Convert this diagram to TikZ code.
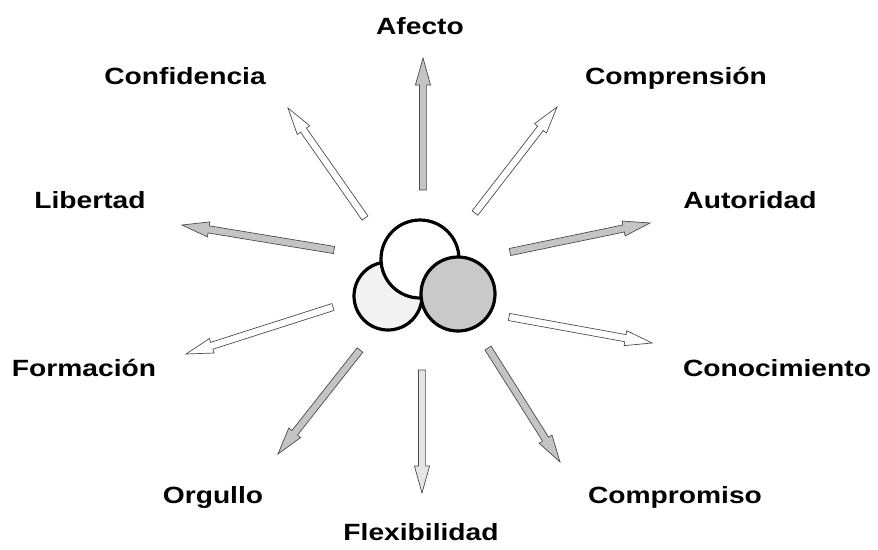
\documentclass[tikz,border=0pt]{standalone}
\usepackage{fontspec}
\newfontfamily\labelfont[FakeStretch=1.2]{Liberation Sans}
\usetikzlibrary{calc}

\definecolor{arrowGray}{rgb}{0.77,0.77,0.77}
\definecolor{paleGray}{rgb}{0.9,0.9,0.9}
\definecolor{leftGray}{rgb}{0.95,0.95,0.95}
\definecolor{circleGray}{rgb}{0.79,0.79,0.79}
\definecolor{strokecol}{rgb}{0.3,0.3,0.3}

% block arrow: tail, tip, fill colour
\newcommand{\rayArrow}[3]{%
    \coordinate (neck) at ($(#2)!\headL!(#1)$);
    \draw[rayline, fill=#3] ($(#1)!\shaftW!90:(#2)$) -- ($(neck)!\shaftW!90:(#2)$) -- ($(neck)!\headW!90:(#2)$) -- (#2) -- ($(neck)!\headW!-90:(#2)$) -- ($(neck)!\shaftW!-90:(#2)$) -- ($(#1)!\shaftW!-90:(#2)$) -- cycle;
}

\begin{document}
\begin{tikzpicture}[x=1pt, y=-1pt,
    valueText/.style={font=\labelfont\bfseries\fontsize{23.5}{26}\selectfont, anchor=base, inner sep=0},
    rayline/.style={draw=strokecol, line width=0.7pt, line join=miter},
    ring/.style={draw=black, line width=3.2pt}]

    \def\shaftW{3.6pt}
    \def\headW{7.6pt}
    \def\headL{27pt}

    \useasboundingbox (0,0) rectangle (878,549);

    % the three circles
    \draw[ring, fill=leftGray] (388,296) circle (34);
    \draw[ring, fill=white] (420,259) circle (39);
    \draw[ring, fill=circleGray] (458,294) circle (37);

    % values
    \node[valueText] (afecto) at (420,34) {Afecto};
    \node[valueText] (confidencia) at (185,84) {Confidencia};
    \node[valueText] (comprension) at (676,84) {Comprensión};
    \node[valueText] (libertad) at (90,208) {Libertad};
    \node[valueText] (autoridad) at (750,208) {Autoridad};
    \node[valueText] (formacion) at (84,376) {Formación};
    \node[valueText] (conocimiento) at (777,376) {Conocimiento};
    \node[valueText] (orgullo) at (213,503) {Orgullo};
    \node[valueText] (compromiso) at (675,503) {Compromiso};
    \node[valueText] (flexibilidad) at (421,540) {Flexibilidad};

    % tails and tips of the rays
    \coordinate (afectoT) at (423,190);       \coordinate (afectoH) at (423,58);
    \coordinate (confidenciaT) at (365,218);  \coordinate (confidenciaH) at (288,108);
    \coordinate (comprensionT) at (475,213);  \coordinate (comprensionH) at (557,107);
    \coordinate (libertadT) at (334,250);     \coordinate (libertadH) at (182,225);
    \coordinate (autoridadT) at (510,252);    \coordinate (autoridadH) at (650,223);
    \coordinate (formacionT) at (333,307);    \coordinate (formacionH) at (186,354);
    \coordinate (conocimientoT) at (509,317); \coordinate (conocimientoH) at (652,343);
    \coordinate (orgulloT) at (360,350);      \coordinate (orgulloH) at (278,454);
    \coordinate (compromisoT) at (488,348);   \coordinate (compromisoH) at (560,462);
    \coordinate (flexibilidadT) at (422,370); \coordinate (flexibilidadH) at (422,493);

    % rays
    \rayArrow{afectoT}{afectoH}{arrowGray}
    \rayArrow{confidenciaT}{confidenciaH}{white}
    \rayArrow{comprensionT}{comprensionH}{white}
    \rayArrow{libertadT}{libertadH}{arrowGray}
    \rayArrow{autoridadT}{autoridadH}{arrowGray}
    \rayArrow{formacionT}{formacionH}{white}
    \rayArrow{conocimientoT}{conocimientoH}{white}
    \rayArrow{orgulloT}{orgulloH}{arrowGray}
    \rayArrow{compromisoT}{compromisoH}{arrowGray}
    \rayArrow{flexibilidadT}{flexibilidadH}{paleGray}
\end{tikzpicture}
\end{document}
